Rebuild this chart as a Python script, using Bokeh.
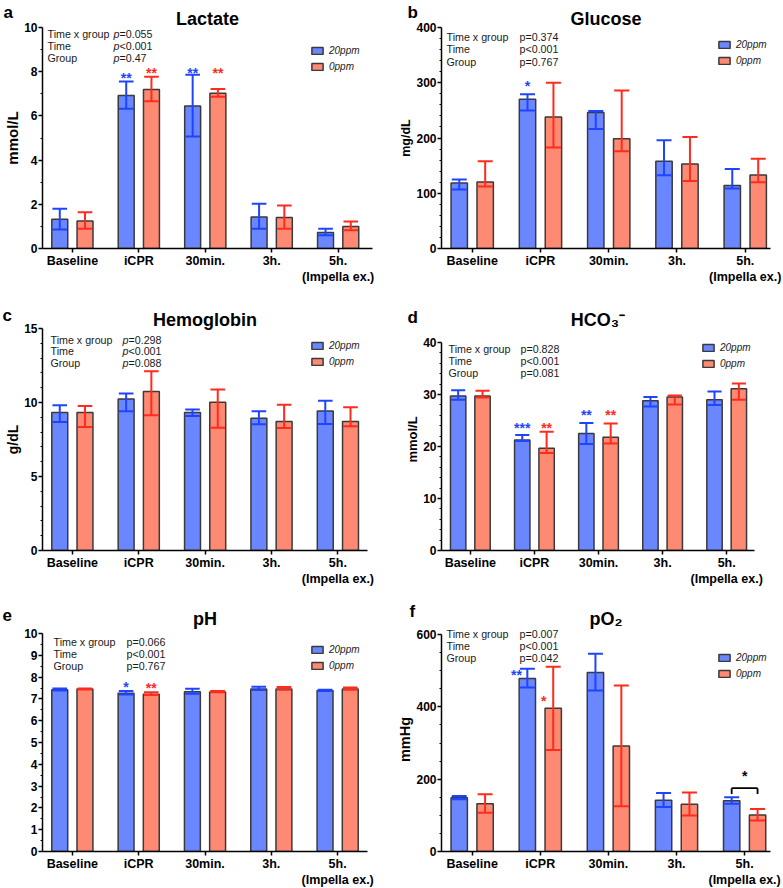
import numpy as np
from bokeh.plotting import figure
from bokeh.layouts import column, row
from bokeh.models import (ColumnDataSource, FixedTicker, Range1d, LabelSet, Title,
                          Legend, LegendItem)
from bokeh.core.properties import value
from bokeh.embed import file_html
from bokeh.resources import INLINE

# ---------------- data ----------------
timepoints = ["Baseline", "iCPR", "30min.", "3h.", "5h.\n(Impella ex.)"]
series_names = ["20ppm", "0ppm"]

lactate_20ppm      = [1.32, 6.92, 6.45, 1.43, 0.72]
lactate_20ppm_low  = [0.86, 6.32, 5.07, 0.89, 0.60]
lactate_20ppm_high = [1.80, 7.56, 7.86, 2.02, 0.89]
lactate_0ppm       = [1.25, 7.20, 7.02, 1.40, 0.99]
lactate_0ppm_low   = [0.89, 6.66, 6.87, 0.89, 0.83]
lactate_0ppm_high  = [1.64, 7.77, 7.22, 1.95, 1.22]

glucose_20ppm      = [118.7, 270.0, 246.0, 158.0, 114.0]
glucose_20ppm_low  = [107.0, 250.0, 216.5, 132.5, 108.5]
glucose_20ppm_high = [125.0, 279.0, 249.0, 196.0, 144.0]
glucose_0ppm       = [120.5, 238.0, 198.5, 153.0, 133.0]
glucose_0ppm_low   = [112.0, 183.0, 176.0, 122.0, 120.0]
glucose_0ppm_high  = [158.0, 300.0, 286.0, 202.0, 162.5]

hemoglobin_20ppm      = [9.32, 10.24, 9.32, 8.93, 9.43]
hemoglobin_20ppm_low  = [8.68, 9.41, 9.09, 8.53, 8.55]
hemoglobin_20ppm_high = [9.81, 10.60, 9.52, 9.41, 10.11]
hemoglobin_0ppm       = [9.32, 10.74, 10.02, 8.71, 8.71]
hemoglobin_0ppm_low   = [8.35, 9.14, 8.30, 8.28, 8.39]
hemoglobin_0ppm_high  = [9.77, 12.11, 10.87, 9.84, 9.68]

hco3_20ppm      = [29.7, 21.25, 22.5, 28.8, 29.0]
hco3_20ppm_low  = [29.0, 21.06, 20.5, 27.7, 28.0]
hco3_20ppm_high = [30.8, 22.2, 24.5, 29.5, 30.6]
hco3_0ppm       = [29.7, 19.65, 21.76, 29.5, 31.1]
hco3_0ppm_low   = [29.4, 18.75, 20.6, 28.1, 29.0]
hco3_0ppm_high  = [30.7, 22.85, 24.4, 29.8, 32.1]

ph_20ppm      = [7.42, 7.26, 7.33, 7.45, 7.38]
ph_20ppm_low  = [7.39, 7.20, 7.24, 7.41, 7.36]
ph_20ppm_high = [7.48, 7.36, 7.47, 7.56, 7.42]
ph_0ppm       = [7.45, 7.21, 7.32, 7.45, 7.45]
ph_0ppm_low   = [7.43, 7.18, 7.30, 7.42, 7.42]
ph_0ppm_high  = [7.48, 7.30, 7.36, 7.55, 7.52]

po2_20ppm      = [148.4, 478.5, 494.7, 142.0, 140.3]
po2_20ppm_low  = [144.8, 453.4, 445.3, 123.0, 132.2]
po2_20ppm_high = [153.8, 505.5, 547.0, 162.0, 150.2]
po2_0ppm       = [132.2, 395.8, 291.4, 130.4, 100.7]
po2_0ppm_low   = [107.0, 280.6, 125.0, 99.8, 85.5]
po2_0ppm_high  = [158.3, 511.0, 458.8, 162.8, 117.8]

stat_names = ["Time x group", "Time", "Group"]
lactate_p    = ["=0.055", "<0.001", "=0.47"]
glucose_p    = ["=0.374", "<0.001", "=0.767"]
hemoglobin_p = ["=0.298", "<0.001", "=0.088"]
hco3_p       = ["=0.828", "<0.001", "=0.081"]
ph_p         = ["=0.066", "<0.001", "=0.767"]
po2_p        = ["=0.007", "<0.001", "=0.042"]

# significance marks: (timepoint index, series, text, level)
lactate_marks = [(1, 0, "**", 7.79), (1, 1, "**", 8.05), (2, 0, "**", 8.05), (2, 1, "**", 8.05)]
glucose_marks = [(1, 0, "*", 298.6)]
hemoglobin_marks = []
hco3_marks = [(1, 0, "***", 24.0), (1, 1, "**", 24.0), (2, 0, "**", 26.5), (2, 1, "**", 26.4)]
ph_marks = [(1, 0, "*", 7.65), (1, 1, "**", 7.57)]
po2_marks = [(1, 0, "**", 494.7), (1, 1, "*", 420.9)]
po2_bracket = (4, 175.0, 159.0, 213.0)   # timepoint, top, ends, star level

# ---------------- style ----------------
FONT = "Liberation Sans"
BLUE_FILL = "#6b87ff"
RED_FILL = "#ff8a73"
BLUE_ERR = "#1f44ff"
RED_ERR = "#ff2b1c"
OUTLINE = "#3a3a3a"
TXT = "#1a1a1a"
BAR_W = 0.24
OFF = 0.19
CAP = 0.22
X0 = -0.45
STAR_DY = 2


def make_panel(cfg):
    x1 = cfg["x_end"]
    ymax = cfg["ymax"]
    fw, fh = cfg["fw"], cfg["fh"]
    pad = cfg["pad"]
    axis_px = fh - pad
    y_end = ymax * fh / axis_px
    bl, br, bt, bb = cfg["borders"]
    p = figure(frame_width=fw, frame_height=fh,
               min_border_left=bl, min_border_right=br, min_border_top=bt, min_border_bottom=bb,
               x_range=Range1d(X0, x1), y_range=Range1d(0, y_end),
               output_backend="svg", toolbar_location=None, tools="")
    p.title_location = None
    p.outline_line_color = None
    p.xgrid.visible = False
    p.ygrid.visible = False

    # titles (main title, then the panel letter further out)
    p.add_layout(Title(text=cfg["title"], align="center", text_font=FONT,
                       text_font_size="18px", text_font_style="bold",
                       text_color="black", standoff=-2.3), "above")
    p.add_layout(Title(text=cfg["letter"], align="left", offset=cfg["letter_dx"],
                       text_font=FONT, text_font_size="17px", text_font_style="bold",
                       text_color="black", standoff=cfg["letter_standoff"]), "above")

    # axes
    xs = np.arange(len(timepoints))
    p.xaxis.ticker = FixedTicker(ticks=list(range(len(timepoints))))
    p.xaxis.major_label_overrides = {i: t for i, t in enumerate(timepoints)}
    p.xaxis.minor_tick_line_color = None
    p.xaxis.major_tick_out = 4
    p.xaxis.major_tick_in = 0
    p.xaxis.major_label_standoff = 1
    p.xaxis.major_label_text_font = FONT
    p.xaxis.major_label_text_font_size = "12.5px"
    p.xaxis.major_label_text_font_style = "bold"
    p.xaxis.major_label_text_color = "black"

    step, mstep = cfg["step"], cfg["mstep"]
    majors = [float(v) for v in np.round(np.arange(0, ymax + step / 2, step), 6)]
    minors = [float(m) for m in np.round(np.arange(0, ymax + mstep / 2, mstep), 6)
              if min(abs(m - t) for t in majors) > 1e-6]
    p.yaxis.ticker = FixedTicker(ticks=majors, minor_ticks=minors)
    p.yaxis.bounds = (0, ymax)
    p.yaxis.major_tick_out = 4
    p.yaxis.major_tick_in = 0
    p.yaxis.minor_tick_out = 2
    p.yaxis.minor_tick_in = 0
    p.yaxis.major_label_standoff = 1
    p.yaxis.major_label_text_font = FONT
    p.yaxis.major_label_text_font_size = "12px"
    p.yaxis.major_label_text_font_style = "bold"
    p.yaxis.major_label_text_color = "black"
    if cfg["ylabel"]:
        p.yaxis.axis_label = cfg["ylabel"]
        p.yaxis.axis_label_text_font = FONT
        p.yaxis.axis_label_text_font_size = cfg["ylabel_size"]
        p.yaxis.axis_label_text_font_style = "bold"
        p.yaxis.axis_label_text_color = "black"
        p.yaxis.axis_label_standoff = 0
    for ax in (p.xaxis, p.yaxis):
        ax.axis_line_width = 1.5
        ax.axis_line_color = "black"
        ax.major_tick_line_width = 1.5
        ax.major_tick_line_color = "black"
        ax.minor_tick_line_width = 1.2
        ax.minor_tick_line_color = "black"

    # bars and error bars
    renderers = []
    d = cfg["data"]
    for vals, lo, hi, fill, err, off in [
            (d[0], d[1], d[2], BLUE_FILL, BLUE_ERR, -OFF),
            (d[3], d[4], d[5], RED_FILL, RED_ERR, OFF)]:
        xb = xs + off
        src = ColumnDataSource(dict(x=xb, top=vals, lo=lo, hi=hi,
                                    cl=xb - CAP / 2, cr=xb + CAP / 2))
        r = p.vbar(x="x", top="top", width=BAR_W, bottom=0, source=src,
                   fill_color=fill, line_color=OUTLINE, line_width=1.5)
        renderers.append(r)
        p.segment(x0="x", y0="lo", x1="x", y1="hi", source=src, line_color=err, line_width=2)
        p.segment(x0="cl", y0="hi", x1="cr", y1="hi", source=src, line_color=err, line_width=2)
        p.segment(x0="cl", y0="lo", x1="cr", y1="lo", source=src, line_color=err, line_width=2)

    # significance marks
    for (ti, s, txt, lvl) in cfg["marks"]:
        dx = cfg.get("mark_dx", {}).get((ti, s), (-OFF if s == 0 else OFF))
        p.text(x=[ti + dx], y=[lvl], text=[txt], text_color=BLUE_ERR if s == 0 else RED_ERR,
               text_font=value(FONT), text_font_size="14px", text_font_style="bold",
               text_align="center", text_baseline="alphabetic", y_offset=STAR_DY)
    if cfg.get("bracket"):
        ti, top, end, star = cfg["bracket"]
        p.segment(x0=[ti - OFF, ti - OFF, ti + OFF], y0=[top, top, top],
                  x1=[ti + OFF, ti - OFF, ti + OFF], y1=[top, end, end],
                  line_color="black", line_width=1.8)
        p.text(x=[ti], y=[star], text=["*"], text_color="black",
               text_font=value(FONT), text_font_size="14px", text_font_style="bold",
               text_align="center", text_baseline="alphabetic", y_offset=STAR_DY)

    # statistics text (positions given in pixels from frame-left / axis-top)
    def fx(dx):
        return X0 + dx / fw * (x1 - X0)

    def fy(dy):
        return ymax - dy / axis_px * ymax

    ys = [fy(v) for v in cfg["stat_dy"]]
    lab_src = ColumnDataSource(dict(x=[fx(cfg["stat_dx"][0])] * 3, y=ys, t=stat_names))
    p.add_layout(LabelSet(x="x", y="y", text="t", source=lab_src, text_font=value(FONT),
                          text_font_size="10.7px", text_color=TXT, text_baseline="middle"))
    vx = fx(cfg["stat_dx"][1])
    if cfg["italic_p"]:
        src_p = ColumnDataSource(dict(x=[vx] * 3, y=ys, t=["p"] * 3))
        p.add_layout(LabelSet(x="x", y="y", text="t", source=src_p, text_font=value(FONT),
                              text_font_size="10.7px", text_font_style="italic",
                              text_color=TXT, text_baseline="middle"))
        src_v = ColumnDataSource(dict(x=[vx] * 3, y=ys, t=cfg["pvals"]))
        p.add_layout(LabelSet(x="x", y="y", text="t", source=src_v, x_offset=6,
                              text_font=value(FONT), text_font_size="10.7px",
                              text_color=TXT, text_baseline="middle"))
    else:
        src_v = ColumnDataSource(dict(x=[vx] * 3, y=ys, t=["p" + v for v in cfg["pvals"]]))
        p.add_layout(LabelSet(x="x", y="y", text="t", source=src_v, text_font=value(FONT),
                              text_font_size="10.7px", text_color=TXT,
                              text_baseline="middle"))

    # legend (gap to frame right edge, first-row centre px below axis top)
    mr, ldy1 = cfg["legend"]
    row_h, gap, gw, gst = 12, 4, 14, 5
    lx = fw - mr - (gw + gst + 31)
    leg_top = pad + ldy1 - row_h / 2
    ly = fh - (leg_top + 2 * row_h + gap)
    leg = Legend(items=[LegendItem(label=series_names[0], renderers=[renderers[0]]),
                        LegendItem(label=series_names[1], renderers=[renderers[1]])],
                 location=(lx, ly), orientation="vertical",
                 label_text_font=FONT, label_text_font_size="10px",
                 label_text_font_style="italic", label_text_color=TXT,
                 glyph_width=gw, glyph_height=9, label_height=row_h, label_standoff=gst,
                 spacing=gap, padding=0, margin=0,
                 border_line_color=None, background_fill_alpha=0)
    p.add_layout(leg)
    return p


panels = [
    dict(letter="a", title="Lactate", ylabel="mmol/L", ylabel_size="15px",
         ymax=10, step=2, mstep=1, x_end=4.517, fw=330, fh=221, pad=0,
         borders=(42, 20, 27, 42), letter_dx=-39, letter_standoff=-28,
         stat_dx=(5, 71), stat_dy=(6.3, 18, 30.3), italic_p=True,
         pvals=lactate_p, legend=(12, 23.7),
         data=(lactate_20ppm, lactate_20ppm_low, lactate_20ppm_high,
               lactate_0ppm, lactate_0ppm_low, lactate_0ppm_high),
         marks=lactate_marks),
    dict(letter="b", title="Glucose", ylabel="mg/dL", ylabel_size="12.5px",
         ymax=400, step=100, mstep=20, x_end=4.37, fw=329, fh=221, pad=0,
         borders=(49, 12, 27, 42), letter_dx=-34, letter_standoff=-28,
         stat_dx=(5, 78), stat_dy=(9, 21.7, 34.3), italic_p=False,
         pvals=glucose_p, legend=(3, 17),
         data=(glucose_20ppm, glucose_20ppm_low, glucose_20ppm_high,
               glucose_0ppm, glucose_0ppm_low, glucose_0ppm_high),
         marks=glucose_marks),
    dict(letter="c", title="Hemoglobin", ylabel="g/dL", ylabel_size="14px",
         ymax=15, step=5, mstep=1, x_end=4.446, fw=325, fh=222, pad=0,
         borders=(42, 25, 38, 38), letter_dx=-40, letter_standoff=-32,
         stat_dx=(8, 80), stat_dy=(11, 22.7, 34.3), italic_p=True,
         pvals=hemoglobin_p, legend=(7, 17),
         data=(hemoglobin_20ppm, hemoglobin_20ppm_low, hemoglobin_20ppm_high,
               hemoglobin_0ppm, hemoglobin_0ppm_low, hemoglobin_0ppm_high),
         marks=hemoglobin_marks),
    dict(letter="d", title="HCO\u2083\u207b", ylabel="mmol/L", ylabel_size="13px",
         ymax=40, step=10, mstep=2, x_end=4.434, fw=313, fh=222, pad=14,
         borders=(49, 28, 38, 38), letter_dx=-34, letter_standoff=-36,
         stat_dx=(7, 79), stat_dy=(6.3, 18.7, 30.7), italic_p=False,
         pvals=hco3_p, legend=(3, 5.3),
         data=(hco3_20ppm, hco3_20ppm_low, hco3_20ppm_high,
               hco3_0ppm, hco3_0ppm_low, hco3_0ppm_high),
         marks=hco3_marks),
    dict(letter="e", title="pH", ylabel=None, ylabel_size="12px",
         ymax=10, step=1, mstep=0.5, x_end=4.45, fw=325, fh=224, pad=6,
         borders=(42, 25, 38, 37), letter_dx=-40, letter_standoff=-26,
         stat_dx=(11, 84), stat_dy=(8, 20.3, 32), italic_p=False,
         pvals=ph_p, legend=(7, 16.3),
         data=(ph_20ppm, ph_20ppm_low, ph_20ppm_high,
               ph_0ppm, ph_0ppm_low, ph_0ppm_high),
         marks=ph_marks),
    dict(letter="f", title="pO\u2082", ylabel="mmHg", ylabel_size="14.5px",
         ymax=600, step=200, mstep=50, x_end=4.38, fw=329, fh=224, pad=7,
         borders=(49, 12, 38, 37), letter_dx=-32, letter_standoff=-26,
         stat_dx=(5, 78), stat_dy=(-0.7, 11.3, 23.7), italic_p=False,
         pvals=po2_p, legend=(3, 23),
         data=(po2_20ppm, po2_20ppm_low, po2_20ppm_high,
               po2_0ppm, po2_0ppm_low, po2_0ppm_high),
         marks=po2_marks, mark_dx={(1, 0): -0.35, (1, 1): 0.05}, bracket=po2_bracket),
]

figs = [make_panel(c) for c in panels]
layout = column(row(figs[0], figs[1]), row(figs[2], figs[3]), row(figs[4], figs[5]))

open("out.html", "w").write(file_html(layout, INLINE, title="Blood gas panels"))
